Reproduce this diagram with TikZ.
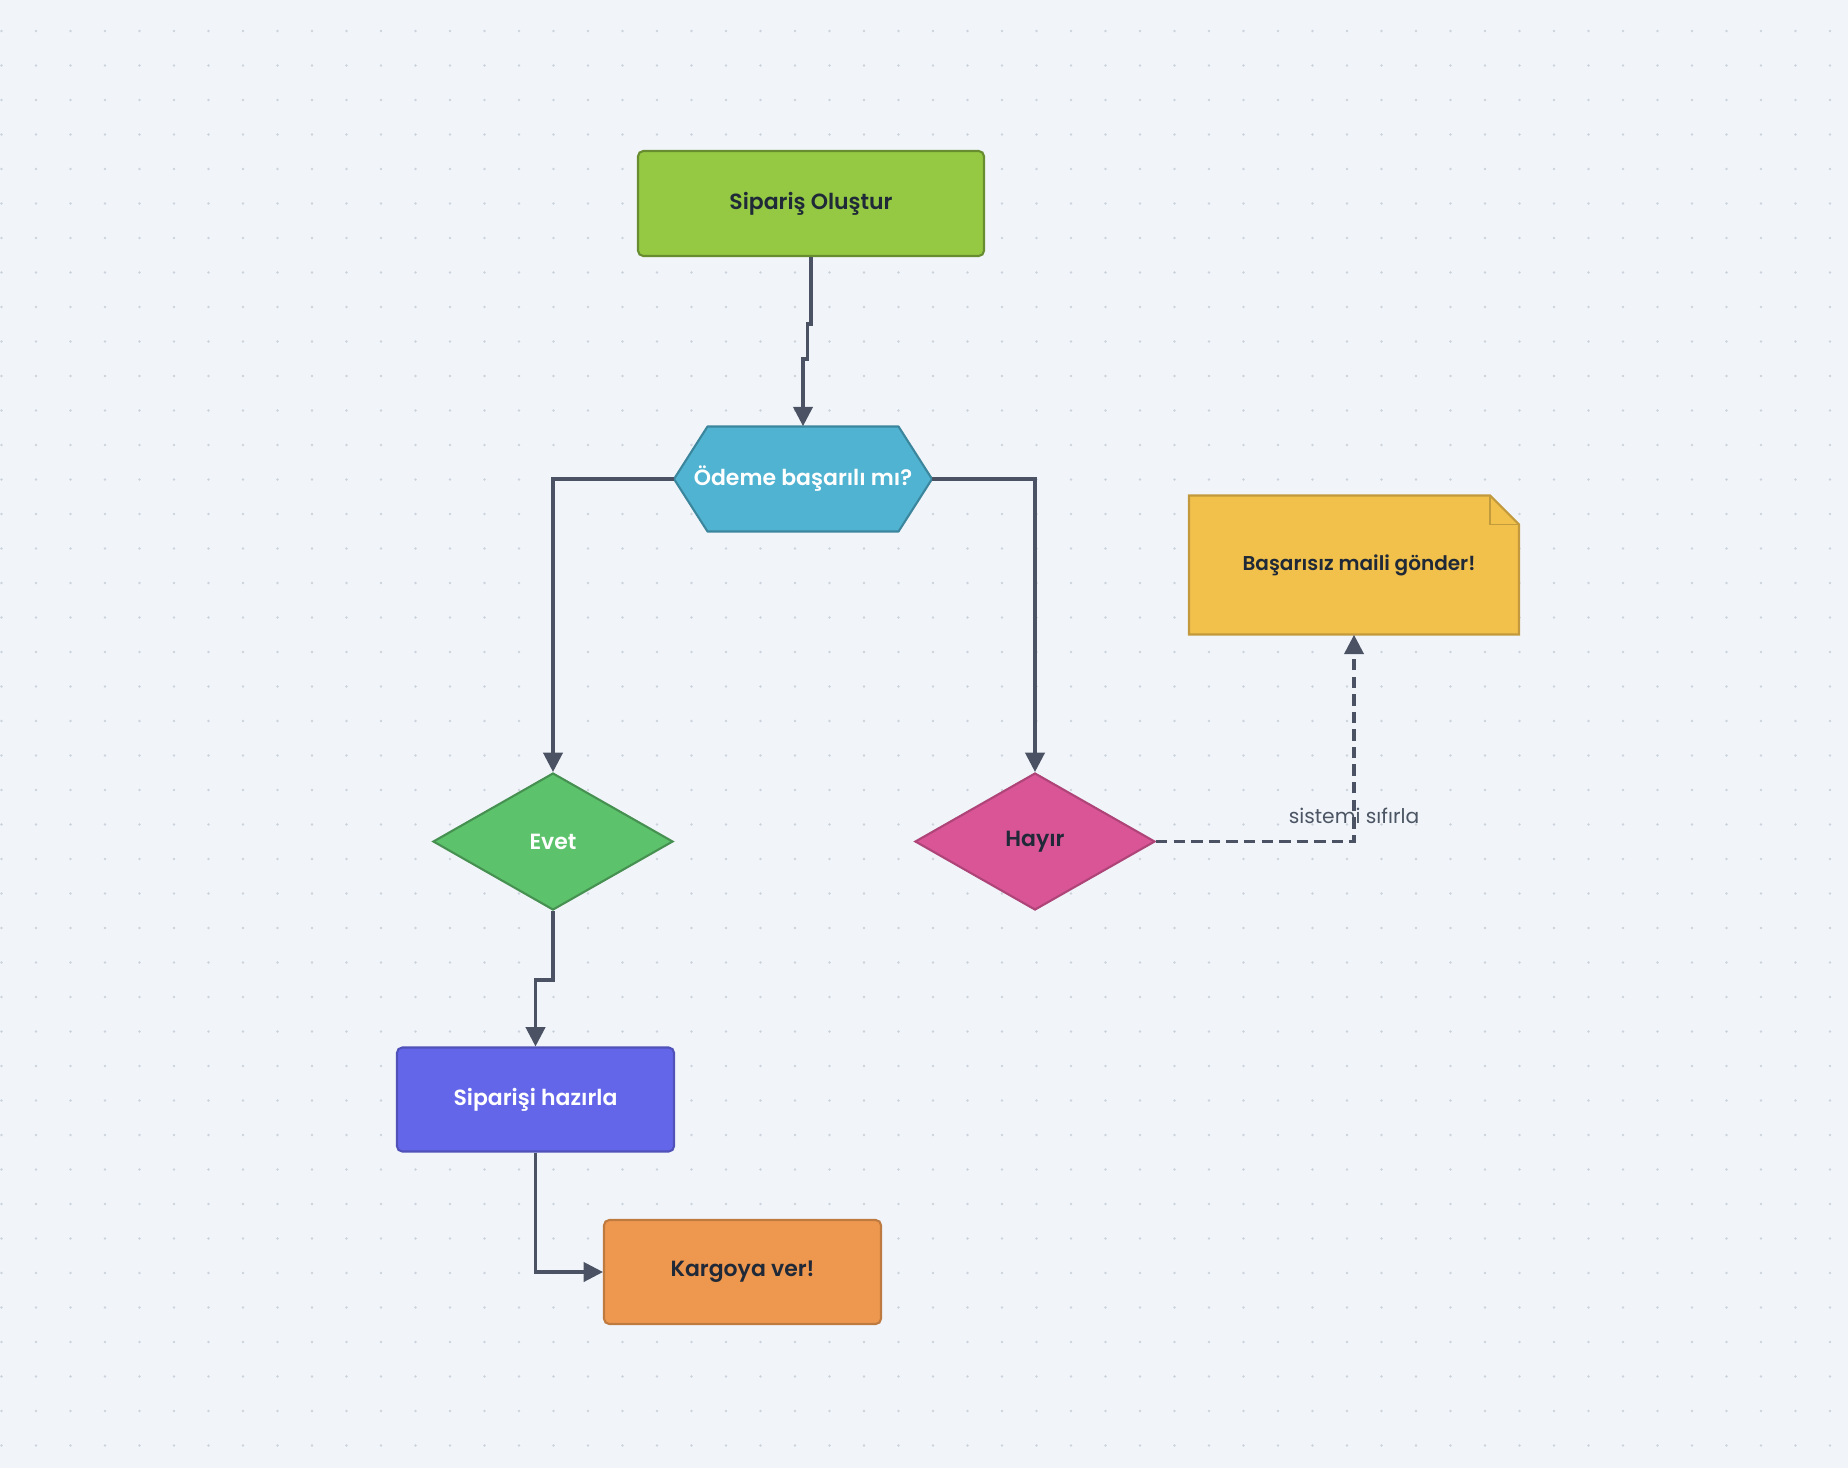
\documentclass[tikz,border=0pt]{standalone}
\usepackage{fontspec}
\setmainfont{Poppins}[BoldFont={Poppins SemiBold}]
\usetikzlibrary{positioning,arrows.meta,calc,shapes.geometric}
\definecolor{PageBg}{RGB}{241,245,250}
\definecolor{GridDot}{RGB}{205,211,220}
\definecolor{LineGray}{RGB}{74,82,99}
\definecolor{InkDark}{RGB}{31,41,55}
\definecolor{LabelGray}{RGB}{75,85,99}
\definecolor{OrderGreen}{RGB}{149,201,68}
\definecolor{PayBlue}{RGB}{80,179,209}
\definecolor{YesGreen}{RGB}{93,194,108}
\definecolor{NoPink}{RGB}{217,85,150}
\definecolor{NoteYellow}{RGB}{242,193,76}
\definecolor{PrepBlue}{RGB}{100,102,233}
\definecolor{ShipOrange}{RGB}{238,152,79}
\tikzset{
  flow/.style={-{Triangle[length=11pt,width=11pt]},line width=1.8pt,draw=LineGray,
    color=LineGray},
  dashflow/.style={-{Triangle[length=11pt,width=11pt]},line width=1.8pt,draw=LineGray,
    dash pattern=on 6.5pt off 3.5pt},
  box/.style={rounded corners=3pt,line width=1.2pt,minimum width=5.54cm,
    minimum height=2.08cm,align=center,font=\bfseries\fontsize{12.5}{15}\selectfont},
  hexbox/.style={minimum width=5.16cm,minimum height=2.1cm,inner sep=0pt,
    font=\bfseries\fontsize{12.5}{15}\selectfont,text=white},
  choice/.style={diamond,line width=1.2pt,minimum width=4.8cm,minimum height=2.74cm,
    inner sep=0pt,font=\bfseries\fontsize{12.5}{15}\selectfont},
  notebox/.style={minimum width=6.6cm,minimum height=2.78cm,
    font=\bfseries\fontsize{11.4}{13}\selectfont,text=InkDark}
}

\begin{document}
\begin{tikzpicture}
  % page and dotted grid
  \useasboundingbox (0,0) rectangle (36.96,-29.36);
  \fill[PageBg] (0,0) rectangle (36.96,-29.36);
  \foreach \i in {0,...,53}
    \foreach \j in {0,...,41}
      \fill[GridDot] (0.03+0.69*\i,-0.62-0.69*\j) circle (0.028);

  \node[box,draw=OrderGreen!70!black,fill=OrderGreen,text=InkDark,
    minimum width=6.92cm,minimum height=2.1cm] (order) at (16.22,-4.07) {Sipariş Oluştur};

  % hexagon behind the question
  \coordinate (pc) at (16.06,-9.58);
  \filldraw[fill=PayBlue,draw=PayBlue!75!black,line width=1.2pt,line join=round]
    ($(pc)+(-2.58,0)$) -- ++(0.67,1.05) -- ++(3.82,0) -- ++(0.67,-1.05)
    -- ++(-0.67,-1.05) -- ++(-3.82,0) -- cycle;
  \node[hexbox] (payment) at (pc) {Ödeme başarılı mı?};

  \node[choice,draw=YesGreen!75!black,fill=YesGreen,text=white] (yes) at (11.06,-16.83) {Evet};
  \node[choice,draw=NoPink!80!black,fill=NoPink,text=InkDark] (no) at (20.70,-16.83) {Hayır};
  \node[box,draw=PrepBlue!80!black,fill=PrepBlue,text=white] (prepare) at (10.71,-21.99) {Siparişi hazırla};
  \node[box,draw=ShipOrange!80!black,fill=ShipOrange,text=InkDark] (ship) at (14.85,-25.44) {Kargoya ver!};

  % note with folded corner
  \coordinate (fold) at (27.08+3.3-0.58,-11.30+1.39);
  \filldraw[fill=NoteYellow,draw=NoteYellow!80!black,line width=1.2pt]
    (27.08-3.3,-11.30+1.39) -- (fold) -- ++(0.58,-0.58)
    -- (27.08+3.3,-11.30-1.39) -- (27.08-3.3,-11.30-1.39) -- cycle;
  \draw[NoteYellow!80!black,line width=1pt] (fold) -- ++(0,-0.58) -- ++(0.58,0);
  \node[notebox] (mail) at (27.08,-11.30) {\hspace{0.2cm}Başarısız maili gönder!};

  \draw[flow] (order.south) -- ++(0,-1.34) -- ++(-0.07,0) -- ++(0,-0.7) -| (payment.north);
  \draw[flow] (payment.west) -| (yes.north);
  \draw[flow] (payment.east) -| (no.north);
  \draw[flow] (yes.south) -- ++(0,-1.38) -| (prepare.north);
  \draw[flow] (prepare.south) |- (ship.west);
  \draw[dashflow] (no.east) -| node[pos=0.5,above=0.2cm,font=\fontsize{11.5}{13}\selectfont,
    text=LabelGray] {sistemi sıfırla} (mail.south);
\end{tikzpicture}
\end{document}
